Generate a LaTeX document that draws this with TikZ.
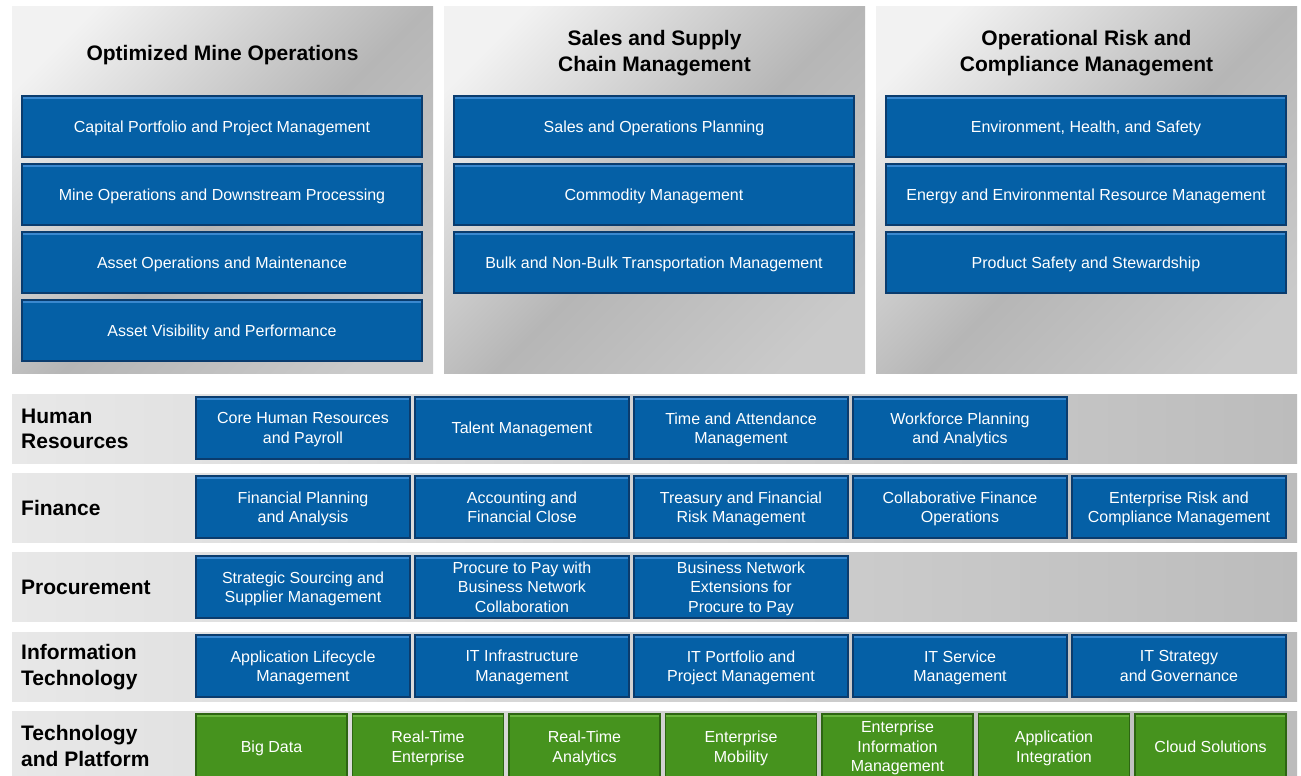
\documentclass[tikz,border=0pt]{standalone}
\usepackage{fontspec}
\setmainfont{Liberation Sans}
\definecolor{blueFill}{HTML}{0560A6}
\definecolor{blueDark}{HTML}{0A3C6E}
\definecolor{blueLight}{HTML}{3A88CF}
\definecolor{greenFill}{HTML}{46931E}
\definecolor{greenDark}{HTML}{2D6512}
\definecolor{greenLight}{HTML}{6AB43F}
\definecolor{panLight}{HTML}{F2F2F2}
\definecolor{panMid}{HTML}{B6B6B6}
\definecolor{panEnd}{HTML}{CACACA}
\definecolor{bandLight}{HTML}{E8E8E8}
\definecolor{bandDark}{HTML}{BCBCBC}
\pgfdeclarehorizontalshading{panelshade}{100bp}{color(0bp)=(panLight); color(22bp)=(panLight); color(52bp)=(panMid); color(78bp)=(panEnd); color(100bp)=(panEnd)}
\tikzset{
  panelbox/.style={anchor=north west, inner sep=0pt, outer sep=0pt, minimum width=421pt, minimum height=366pt,
    shading=panelshade, shading angle=-45},
  bandbox/.style={anchor=north west, inner sep=0pt, outer sep=0pt, minimum width=1285pt, minimum height=69pt,
    left color=bandLight, right color=bandDark},
  headtxt/.style={font=\fontsize{21}{26}\selectfont\bfseries, align=center, text=black, inner sep=0pt},
  labeltxt/.style={font=\fontsize{21}{25.5}\selectfont\bfseries, align=left, text=black, anchor=west, inner sep=0pt},
  tile/.style={anchor=north west, inner sep=0pt, outer sep=0pt, align=center, text=white, text depth=0pt,
    font=\fontsize{16}{19.6}\selectfont},
  bluetile/.style={tile, fill=blueFill, draw=blueDark, line width=1.3pt,
    path picture={\draw[blueLight, line width=2.2pt]
      ([yshift=-1.8pt]path picture bounding box.north west) -- ([yshift=-1.8pt]path picture bounding box.north east);}},
  greentile/.style={tile, fill=greenFill, draw=greenDark, line width=1.3pt,
    path picture={\draw[greenLight, line width=2.2pt]
      ([yshift=-1.8pt]path picture bounding box.north west) -- ([yshift=-1.8pt]path picture bounding box.north east);}},
  bigtile/.style={bluetile, minimum width=400pt, minimum height=61pt},
  rowtile/.style={bluetile, minimum width=214pt, minimum height=62pt},
  gtile/.style={greentile, minimum width=151pt, minimum height=65pt},
}
\begin{document}
\begin{tikzpicture}[x=1pt,y=1pt]
\useasboundingbox[fill=white] (0,0) rectangle (1301,-776);
\begin{scope}
\clip (0,0) rectangle (1301,-776);
% top panels
\node[panelbox] (p1) at (12,-7) {};
\node[panelbox] (p2) at (444,-7) {};
\node[panelbox] (p3) at (876,-7) {};
\node[headtxt] (h1) at (222.5,-55) {Optimized Mine Operations};
\node[headtxt] (h2) at (654.5,-53) {Sales and Supply\\Chain Management};
\node[headtxt] (h3) at (1086.5,-53) {Operational Risk and\\Compliance Management};
% panel 1 tiles
\node[bigtile] (a1) at (22,-96) {Capital Portfolio and Project Management};
\node[bigtile] (a2) at (22,-164) {Mine Operations and Downstream Processing};
\node[bigtile] (a3) at (22,-232) {Asset Operations and Maintenance};
\node[bigtile] (a4) at (22,-300) {Asset Visibility and Performance};
% panel 2 tiles
\node[bigtile] (b1) at (454,-96) {Sales and Operations Planning};
\node[bigtile] (b2) at (454,-164) {Commodity Management};
\node[bigtile] (b3) at (454,-232) {Bulk and Non-Bulk Transportation Management};
% panel 3 tiles
\node[bigtile] (c1) at (886,-96) {Environment, Health, and Safety};
\node[bigtile] (c2) at (886,-164) {Energy and Environmental Resource Management};
\node[bigtile] (c3) at (886,-232) {Product Safety and Stewardship};
% bands
\node[bandbox] (r1) at (12,-394) {};
\node[bandbox] (r2) at (12,-473) {};
\node[bandbox] (r3) at (12,-552) {};
\node[bandbox] (r4) at (12,-632) {};
\node[bandbox, minimum height=72pt] (r5) at (12,-711) {};
\node[labeltxt] (l1) at (21,-429) {Human\\Resources};
\node[labeltxt] (l2) at (21,-508) {Finance};
\node[labeltxt] (l3) at (21,-587) {Procurement};
\node[labeltxt] (l4) at (21,-667) {Information\\Technology};
\node[labeltxt] (l5) at (21,-746) {Technology\\and Platform};
% HR
\node[rowtile] (hr1) at (196,-397) {Core Human Resources\\and Payroll};
\node[rowtile] (hr2) at (415,-397) {Talent Management};
\node[rowtile] (hr3) at (634,-397) {Time and Attendance\\Management};
\node[rowtile] (hr4) at (853,-397) {Workforce Planning\\and Analytics};
% Finance
\node[rowtile] (f1) at (196,-476) {Financial Planning\\and Analysis};
\node[rowtile] (f2) at (415,-476) {Accounting and\\Financial Close};
\node[rowtile] (f3) at (634,-476) {Treasury and Financial\\Risk Management};
\node[rowtile] (f4) at (853,-476) {Collaborative Finance\\Operations};
\node[rowtile] (f5) at (1072,-476) {Enterprise Risk and\\Compliance Management};
% Procurement
\node[rowtile] (pr1) at (196,-556) {Strategic Sourcing and\\Supplier Management};
\node[rowtile] (pr2) at (415,-556) {Procure to Pay with\\Business Network\\Collaboration};
\node[rowtile] (pr3) at (634,-556) {Business Network\\Extensions for\\Procure to Pay};
% IT
\node[rowtile] (it1) at (196,-635) {Application Lifecycle\\Management};
\node[rowtile] (it2) at (415,-635) {IT Infrastructure\\Management};
\node[rowtile] (it3) at (634,-635) {IT Portfolio and\\Project Management};
\node[rowtile] (it4) at (853,-635) {IT Service\\Management};
\node[rowtile] (it5) at (1072,-635) {IT Strategy\\and Governance};
% Technology and Platform
\node[gtile] (t1) at (196,-714) {Big Data};
\node[gtile] (t2) at (352.5,-714) {Real-Time\\Enterprise};
\node[gtile] (t3) at (509,-714) {Real-Time\\Analytics};
\node[gtile] (t4) at (665.5,-714) {Enterprise\\Mobility};
\node[gtile] (t5) at (822,-714) {Enterprise\\Information\\Management};
\node[gtile] (t6) at (978.5,-714) {Application\\Integration};
\node[gtile] (t7) at (1135,-714) {Cloud Solutions};
\end{scope}
\end{tikzpicture}
\end{document}
